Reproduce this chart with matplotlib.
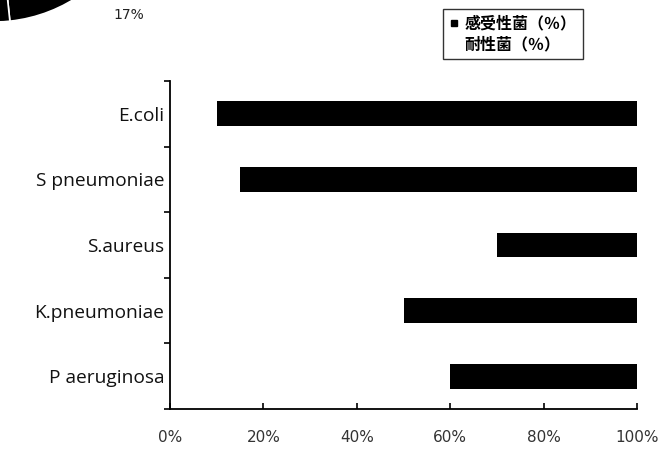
import numpy as np
import matplotlib
matplotlib.use("Agg")
import matplotlib.pyplot as plt
from matplotlib.lines import Line2D
from matplotlib.ticker import FixedLocator

# Bacteria (top to bottom) and share of resistant / susceptible isolates (%)
organisms = ["E.coli", "S pneumoniae", "S.aureus", "K.pneumoniae", "P aeruginosa"]
resistant = [10, 15, 70, 50, 60]
susceptible = [90, 85, 30, 50, 40]
series_names = ["感受性菌（％）", "耐性菌（％）"]
x_ticks = [0, 20, 40, 60, 80, 100]
x_tick_labels = ["0%", "20%", "40%", "60%", "80%", "100%"]

# Fragment of a neighbouring pie chart
pie_values = [17, 83]
pie_label = "17%"

W, H = 668, 453
fig = plt.figure(figsize=(W / 100, H / 100), dpi=100)
fig.patch.set_facecolor("white")

# main axes: x from 170 to 637 px, y from 81 to 409 px (from top)
ax = fig.add_axes([170 / W, 1 - 409 / H, (637 - 170) / W, (409 - 81) / H])
ypos = list(range(len(organisms)))
ax.barh(ypos, resistant, height=0.38, color="white", edgecolor="none",
        label=series_names[1])
ax.barh(ypos, susceptible, left=resistant, height=0.38, color="black",
        edgecolor="none", label=series_names[0])

ax.set_xlim(0, 100)
ax.set_ylim(len(organisms) - 0.5, -0.5)

for s in ("top", "right"):
    ax.spines[s].set_visible(False)
for s in ("left", "bottom"):
    ax.spines[s].set_linewidth(1.3)
    ax.spines[s].set_color("black")

ax.set_xticks(x_ticks)
ax.set_xticklabels(x_tick_labels, fontsize=11, color="#333333", family="DejaVu Sans")
ax.tick_params(axis="x", direction="in", length=4, width=1.2, pad=15)

ax.set_yticks(ypos)
ax.set_yticklabels(organisms, fontsize=13.8, family="Open Sans", color="#111111")
ax.yaxis.set_minor_locator(FixedLocator([i - 0.5 for i in range(len(organisms) + 1)]))
ax.tick_params(axis="y", which="major", length=0, pad=4)
ax.tick_params(axis="y", which="minor", direction="out", length=4, width=1.2)

# legend: black square for susceptible, blank for resistant
handles = [
    Line2D([], [], marker="s", color="black", linestyle="none", markersize=4.5),
    Line2D([], [], marker="s", color="white", linestyle="none", markersize=4.5),
]
leg = fig.legend(handles, series_names, loc="upper left",
                 bbox_to_anchor=(443 / W, 1 - 9 / H), borderaxespad=0,
                 prop={"family": "Noto Sans CJK JP", "size": 11.5, "weight": "bold"},
                 frameon=True, fancybox=False, edgecolor="black",
                 handlelength=0.55, handletextpad=0.4, labelspacing=0.3,
                 borderpad=0.4)
leg.get_frame().set_linewidth(1.0)

# pie fragment in the upper-left corner
r = 152
cx, cy = -6, H + 130
pax = fig.add_axes([(cx - r) / W, (cy - r) / H, 2 * r / W, 2 * r / H])
pax.pie(pie_values, colors=["black", "black"], startangle=-84,
        counterclock=True, radius=1,
        wedgeprops={"edgecolor": "white", "linewidth": 1.2})
lab_ang = np.deg2rad(-47)
pax.text(1.3 * np.cos(lab_ang), 1.3 * np.sin(lab_ang), pie_label,
         ha="center", va="center", fontsize=10, family="DejaVu Sans",
         color="#222222")
pax.set_xlim(-1, 1)
pax.set_ylim(-1, 1)
pax.set_aspect("auto")
pax.axis("off")

fig.savefig("out.png", dpi=100)
